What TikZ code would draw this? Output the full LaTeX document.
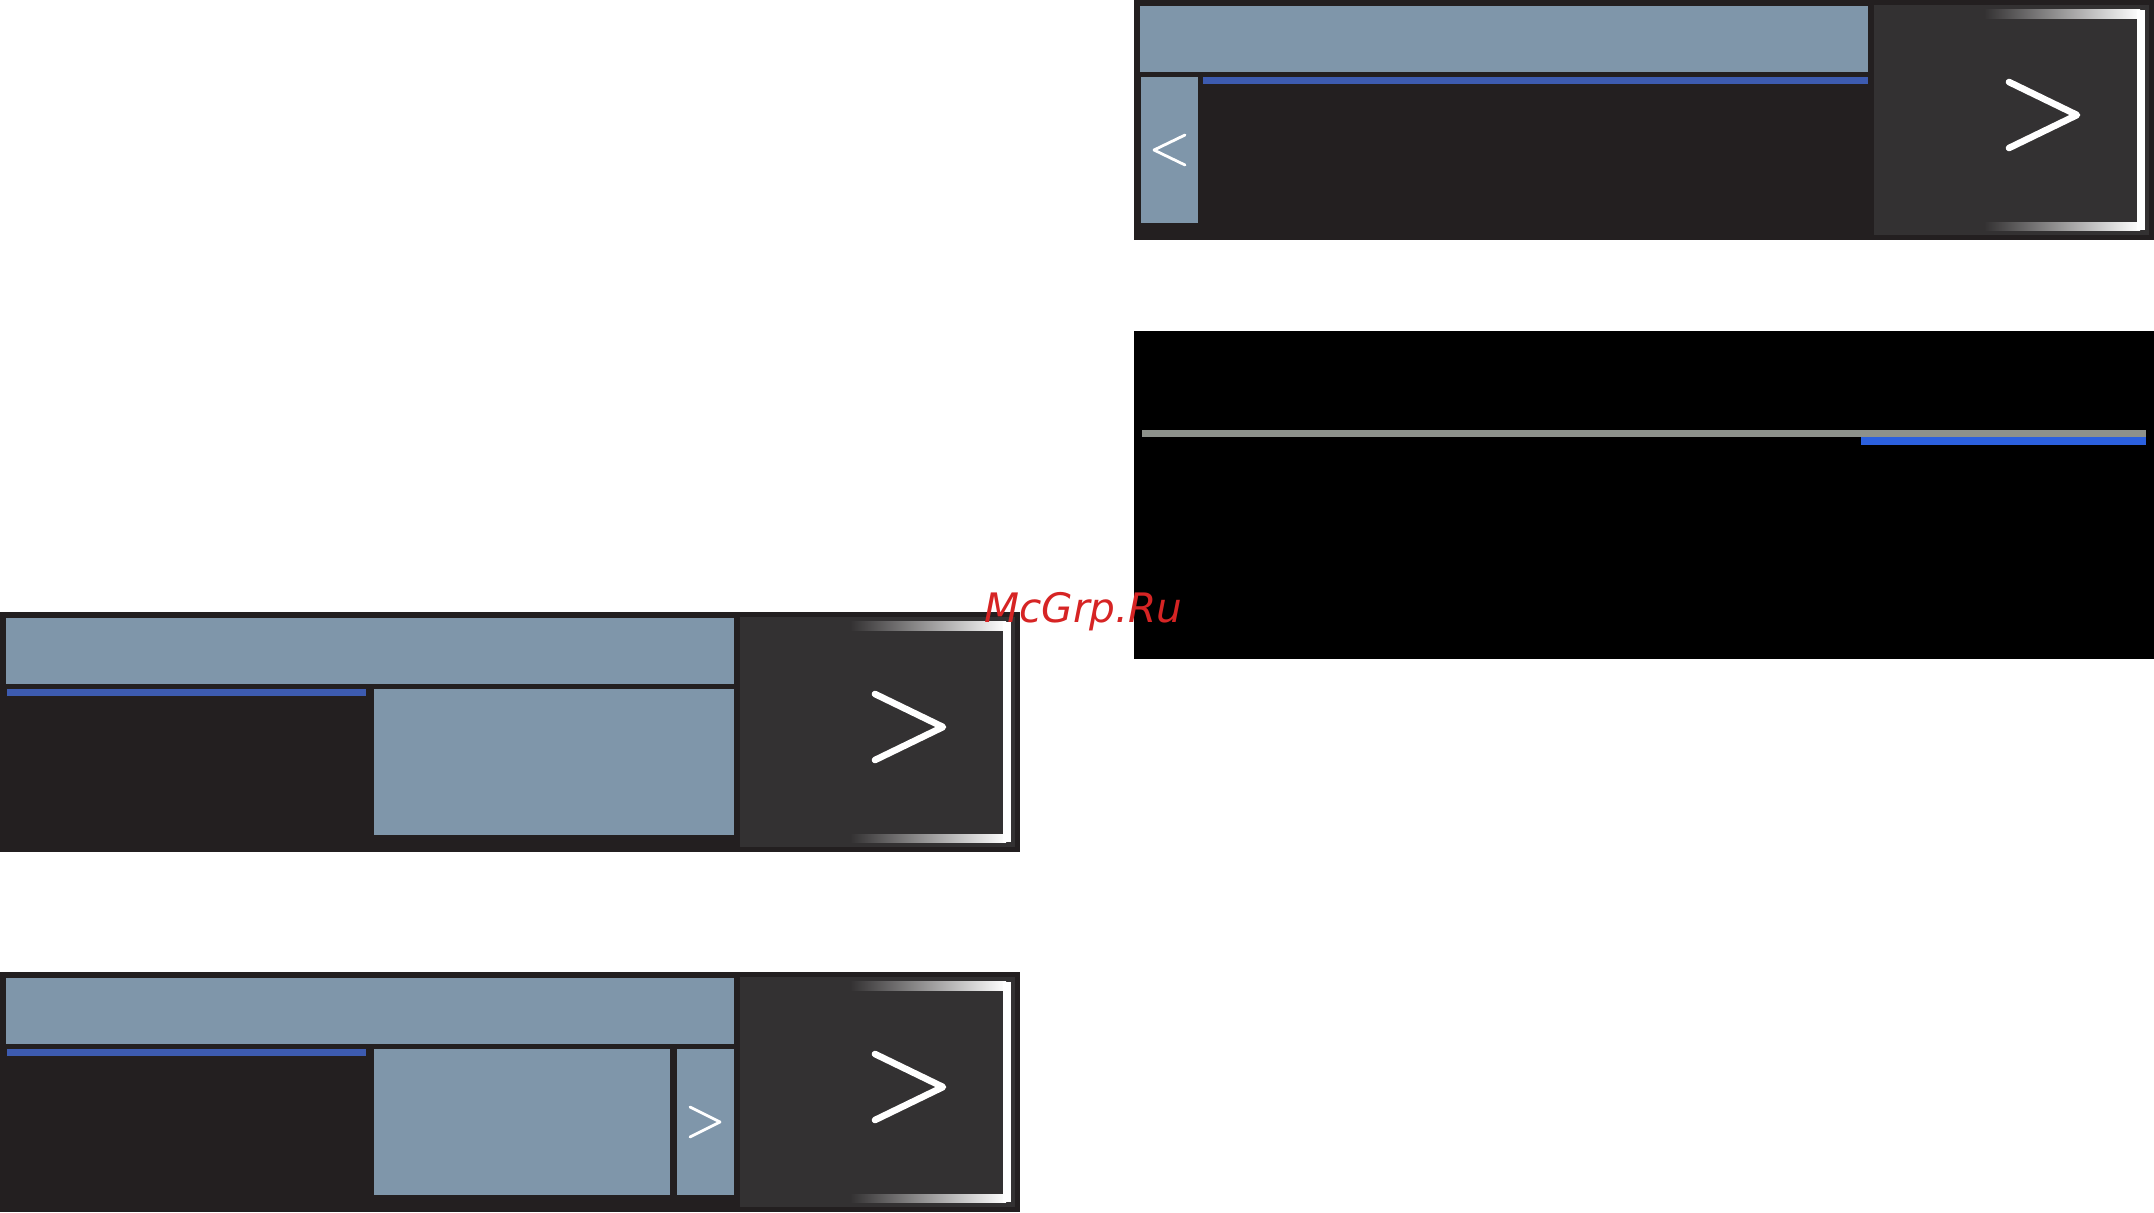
\documentclass[tikz,border=0pt]{standalone}
\usepackage{fontspec}
\newfontfamily\markfont{DejaVu Sans}
\definecolor{panelcol}{HTML}{231F20}
\definecolor{innercol}{HTML}{333132}
\definecolor{barcol}{HTML}{7F96AA}
\definecolor{linecol}{HTML}{3D5BB0}
\definecolor{greycol}{HTML}{8D918B}
\definecolor{brightcol}{HTML}{2B60DE}
\definecolor{markcol}{HTML}{D62424}
\tikzset{
	bigarrow/.style={draw=white, line width=3.3pt, line cap=round, line join=round},
	smallarrow/.style={draw=white, line width=1.4pt, line cap=round, line join=round},
	fade/.style={left color=innercol, right color=white}
}
\begin{document}
\begin{tikzpicture}[x=0.5pt, y=-0.5pt]
	\useasboundingbox (0,0) rectangle (2154,1212);
	% the three dark panels
	\foreach \px/\py in {0/612, 0/972, 1134/0} {
		\begin{scope}[shift={(\px,\py)}]
			\fill[panelcol] (0,0) rectangle (1020,240);
			\fill[innercol] (740,5) rectangle (1015,235);
			\fill[barcol] (6,6) rectangle (734,72);
			\shade[fade] (850,9) rectangle (1006,18);
			\shade[fade] (850,222) rectangle (1006,230);
			\fill[white] (1002.5,9.5) rectangle (1010.5,229.5);
			\draw[bigarrow] (875,82) -- (943,115) -- (875,148);
		\end{scope}
	}
	% what differs from panel to panel
	\fill[linecol] (7,688.5) rectangle (366,695.5);
	\fill[barcol] (374,688.5) rectangle (734,835);
	\fill[linecol] (7,1048.5) rectangle (366,1055.5);
	\fill[barcol] (374,1048.5) rectangle (670,1195);
	\fill[barcol] (677,1048.5) rectangle (734,1195);
	\draw[smallarrow] (690,1107) -- (720,1122) -- (690,1137);
	\fill[barcol] (1141,76.5) rectangle (1198,223);
	\fill[linecol] (1203,76.5) rectangle (1868,83.5);
	\draw[smallarrow] (1185,135) -- (1154,150) -- (1185,165);
	% black panel
	\fill[black] (1134,331) rectangle (2154,659);
	\fill[greycol] (1142,430) rectangle (2146,437);
	\fill[brightcol] (1861,437) rectangle (2146,445);
	\node[anchor=base, inner sep=0pt, text=markcol] (mark) at (1083.5,622)
		{\fontsize{20.3}{24}\selectfont\markfont\itshape McGrp.Ru};
\end{tikzpicture}
\end{document}
